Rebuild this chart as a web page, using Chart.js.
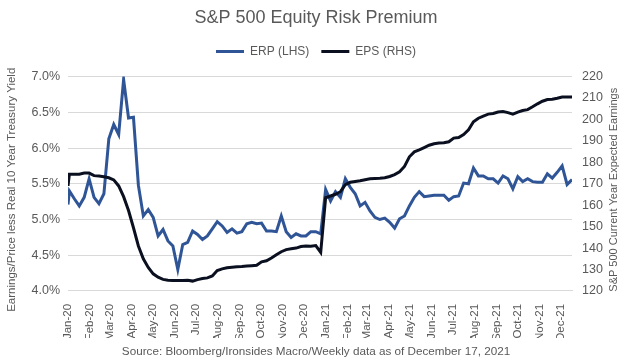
<!DOCTYPE html>
<html>
<head>
<meta charset="utf-8">
<script src="https://cdn.jsdelivr.net/npm/chart.js@4.4.0/dist/chart.umd.min.js"></script>
<style>
  html, body { margin: 0; padding: 0; background: #fff; }
  #wrap { width: 632px; height: 362px; position: relative; }
</style>
</head>
<body>
<div id="wrap"><canvas id="erpChart"></canvas></div>
<script>
// Month tick labels (placed on the 1st of each month)
const monthLabels = ['Jan-20', 'Feb-20', 'Mar-20', 'Apr-20', 'May-20', 'Jun-20', 'Jul-20', 'Aug-20',
  'Sep-20', 'Oct-20', 'Nov-20', 'Dec-20', 'Jan-21', 'Feb-21', 'Mar-21', 'Apr-21', 'May-21', 'Jun-21',
  'Jul-21', 'Aug-21', 'Sep-21', 'Oct-21', 'Nov-21', 'Dec-21'];

// First point is 1 Jan 2020, then weekly (Fridays) from 3 Jan 2020 to 17 Dec 2021
const firstDate = '2020-01-01';
const weeklyStart = '2020-01-03';

// ERP (LHS), %
const erp = [5.21,
  5.40, 5.29, 5.19, 5.31, 5.57, 5.31, 5.22, 5.36, 6.13, 6.33,
  6.19, 6.96, 6.42, 6.43, 5.48, 5.05, 5.14, 5.03, 4.77, 4.86,
  4.70, 4.63, 4.30, 4.65, 4.68, 4.84, 4.79, 4.72, 4.77, 4.87,
  4.97, 4.91, 4.82, 4.87, 4.81, 4.83, 4.94, 4.96, 4.94, 4.95,
  4.84, 4.84, 4.83, 5.05, 4.83, 4.75, 4.80, 4.77, 4.77, 4.83,
  4.83, 4.80, 5.42, 5.26, 5.39, 5.31, 5.57, 5.45, 5.36, 5.19,
  5.24, 5.12, 5.03, 5.00, 5.02, 4.96, 4.88, 5.01, 5.05, 5.19,
  5.31, 5.39, 5.32, 5.33, 5.34, 5.34, 5.34, 5.27, 5.32, 5.33,
  5.51, 5.50, 5.72, 5.61, 5.61, 5.57, 5.57, 5.51, 5.61, 5.57,
  5.43, 5.60, 5.53, 5.57, 5.53, 5.52, 5.52, 5.64, 5.58, 5.66,
  5.75, 5.49, 5.56];

// EPS (RHS), S&P 500 current year expected earnings
const eps = [169.0,
  174.5, 174.5, 174.5, 175.0, 175.0, 173.8, 173.6, 173.3, 172.8, 171.8,
  169.0, 164.0, 157.5, 149.5, 141.0, 135.0, 131.0, 128.0, 126.4, 125.4,
  125.0, 124.9, 124.9, 124.9, 125.0, 124.6, 125.3, 125.8, 126.1, 127.0,
  129.5, 130.3, 130.8, 131.1, 131.3, 131.4, 131.6, 131.8, 132.0, 133.6,
  134.1, 135.4, 136.9, 138.3, 139.3, 139.7, 140.0, 140.7, 141.0, 140.9,
  141.2, 138.0, 163.5, 164.3, 165.1, 166.3, 169.6, 170.7, 171.1, 171.4,
  171.9, 172.3, 172.5, 172.6, 172.8, 173.4, 174.3, 175.6, 178.1, 182.6,
  184.9, 185.8, 186.9, 188.0, 188.7, 189.0, 189.1, 189.6, 191.3, 191.6,
  193.0, 195.2, 198.9, 200.6, 201.6, 202.5, 202.8, 203.5, 203.7, 203.2,
  202.5, 203.4, 204.2, 204.6, 205.9, 207.3, 208.5, 209.3, 209.4, 209.9,
  210.5, 210.5, 210.5];

const leftTitle = 'Earnings/Price less Real 10 Year Treasury Yield';
const rightTitle = 'S&P 500 Current Year Expected Earnings';

const DAY = 86400000;
const dayOf = s => (Date.parse(s) - Date.parse(firstDate)) / DAY;

const grey = '#595959';
const font = 'Liberation Sans, Arial, sans-serif';

document.addEventListener('DOMContentLoaded', function() {
  renderChart();
});

// Extra space under the legend
const legendMargin = {
  id: 'legendMargin',
  beforeInit(chart) {
    const fit = chart.legend.fit;
    chart.legend.fit = function() {
      fit.bind(chart.legend)();
      this.height += 9;
    };
  }
};

// Both axis titles read bottom-to-top, like the original
const sideTitles = {
  id: 'sideTitles',
  afterDraw(chart) {
    const c = chart.ctx;
    const area = chart.chartArea;
    const cy = (area.top + area.bottom) / 2 + 6;
    c.save();
    c.fillStyle = grey;
    c.textAlign = 'center';
    c.textBaseline = 'middle';
    [[leftTitle, 12, 11.5], [rightTitle, 614, 11]].forEach(([text, x, size]) => {
      c.save();
      c.font = size + 'px ' + font;
      c.translate(x, cy);
      c.rotate(-Math.PI / 2);
      c.fillText(text, 0, 0);
      c.restore();
    });
    c.restore();
  }
};

function renderChart() {
  const ctx = document.getElementById('erpChart').getContext('2d');
  const start = dayOf(weeklyStart);

  // x position in days since first date
  const xs = erp.map((v, i) => i === 0 ? 0 : start + (i - 1) * 7);
  const lastDay = xs[xs.length - 1];

  // tick positions: 1st of each month
  const monthTicks = monthLabels.map((m, i) => {
    const d = new Date(Date.UTC(2020 + Math.floor(i / 12), i % 12, 1));
    return (d.getTime() - Date.parse(firstDate)) / DAY;
  });

  new Chart(ctx, {
    type: 'line',
    data: {
      datasets: [
        {
          label: 'ERP (LHS)',
          data: erp.map((v, i) => ({ x: xs[i], y: v })),
          borderColor: '#2f5597',
          backgroundColor: '#2f5597',
          borderWidth: 3,
          pointRadius: 0,
          tension: 0,
          yAxisID: 'y',
          order: 2,
        },
        {
          label: 'EPS (RHS)',
          data: eps.map((v, i) => ({ x: xs[i], y: v })),
          borderColor: '#0b1020',
          backgroundColor: '#0b1020',
          borderWidth: 3,
          pointRadius: 0,
          tension: 0,
          yAxisID: 'y1',
          order: 1,
        }
      ]
    },
    plugins: [legendMargin, sideTitles],
    options: {
      responsive: true,
      maintainAspectRatio: false,
      animation: false,
      layout: { padding: 0 },
      plugins: {
        title: {
          display: true,
          text: 'S&P 500 Equity Risk Premium',
          color: grey,
          font: { family: font, size: 18, weight: 'normal' },
          padding: { top: 7, bottom: 5 },
        },
        subtitle: {
          display: true,
          position: 'bottom',
          text: 'Source: Bloomberg/Ironsides Macro/Weekly data as of December 17, 2021',
          color: grey,
          font: { family: font, size: 11.7 },
          padding: { top: 7, bottom: 3 },
        },
        legend: {
          position: 'top',
          labels: {
            color: grey,
            font: { family: font, size: 12 },
            usePointStyle: true,
            pointStyle: 'line',
            pointStyleWidth: 28,
            boxHeight: 12,
            padding: 12,
            sort: (a, b) => a.datasetIndex - b.datasetIndex,
          }
        },
        tooltip: { enabled: false }
      },
      scales: {
        x: {
          type: 'linear',
          min: 0,
          max: lastDay,
          afterBuildTicks: axis => {
            axis.ticks = monthTicks.map(v => ({ value: v }));
          },
          afterFit: axis => { axis.height = 47; },
          ticks: {
            autoSkip: false,
            minRotation: 90,
            maxRotation: 90,
            padding: 5,
            color: grey,
            font: { family: font, size: 11.5 },
            callback: function(value, index) {
              return monthLabels[index];
            }
          },
          grid: { display: false },
          border: { display: true, color: '#d9d9d9' }
        },
        y: {
          position: 'left',
          min: 4.0,
          max: 7.0,
          afterFit: axis => { axis.width = 68; },
          ticks: {
            stepSize: 0.5,
            padding: 8,
            color: grey,
            font: { family: font, size: 12.5 },
            callback: value => value.toFixed(1) + '%'
          },
          grid: { color: '#d9d9d9', drawTicks: false },
          border: { display: false }
        },
        y1: {
          position: 'right',
          min: 120,
          max: 220,
          afterFit: axis => { axis.width = 60; },
          ticks: {
            stepSize: 10,
            padding: 10,
            color: grey,
            font: { family: font, size: 12.5 },
          },
          grid: { drawOnChartArea: false, drawTicks: false },
          border: { display: false }
        }
      }
    }
  });
}
</script>
</body>
</html>
